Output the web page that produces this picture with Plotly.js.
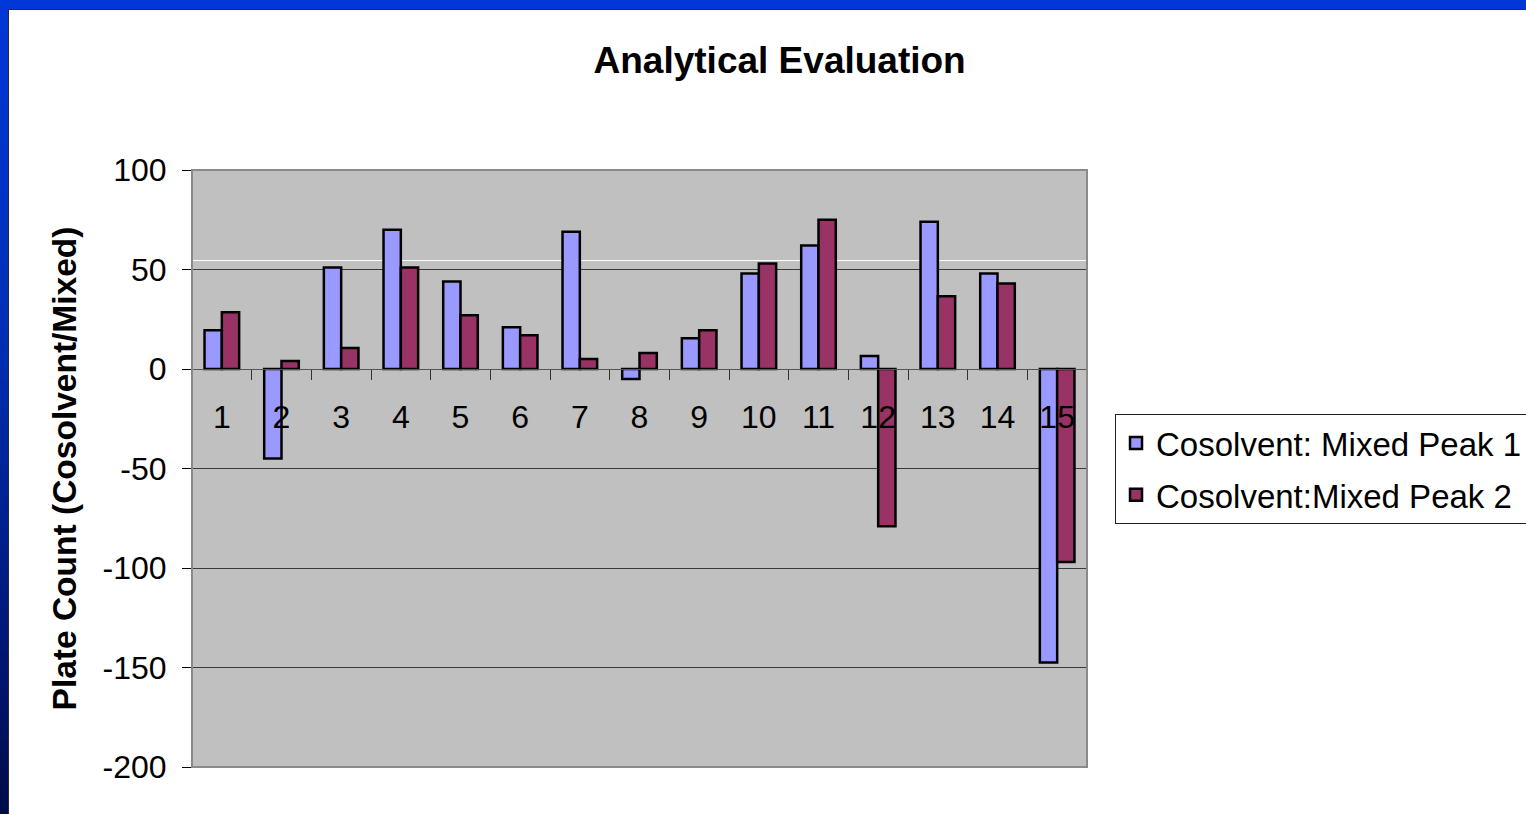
<!DOCTYPE html>
<html>
<head>
<meta charset="utf-8">
<script src="https://cdn.plot.ly/plotly-3.0.1.min.js"></script>
<style>
  html, body { margin:0; padding:0; width:1526px; height:814px; overflow:hidden; }
  body { background: linear-gradient(to bottom, #0038D8 0%, #0030B8 40%, #00146A 85%, #000C48 100%); position:relative; }
  #edge { position:absolute; left:8px; top:9px; width:1518px; height:805px; background:#2a2a2a; }
  #chart { position:absolute; left:9px; top:10px; width:1517px; height:804px; background:#fff; }
</style>
</head>
<body>
<div id="edge"></div>
<div id="chart"></div>
<script>
const categories = ["1","2","3","4","5","6","7","8","9","10","11","12","13","14","15"];
const peak1Name = "Cosolvent: Mixed Peak 1";
const peak2Name = "Cosolvent:Mixed Peak 2";
const peak1 = [19.5, -45, 51, 70, 44, 21, 69, -5, 15.5, 48, 62, 6.5, 74, 48, -147.5];
const peak2 = [28.5, 4, 10.5, 51, 27, 17, 5, 8, 19.5, 53, 75, -79, 36.5, 43, -97];
const yTicks = [-200, -150, -100, -50, 0, 50, 100];

const FONT = "'Liberation Sans', Arial, sans-serif";

const traces = [
  { type:'bar', x:categories, y:peak1, name:peak1Name, legendgroup:'a',
    marker:{ color:'#9999FF', line:{ color:'#000000', width:2.5 } } },
  { type:'bar', x:categories, y:peak2, name:peak2Name, legendgroup:'b',
    marker:{ color:'#993366', line:{ color:'#000000', width:2.5 } } }
];

const layout = {
  width:1517, height:804,
  paper_bgcolor:'#ffffff', plot_bgcolor:'#C0C0C0',
  margin:{ l:183, r:439, t:160, b:47, autoexpand:false },
  barmode:'group', bargap:0.42, bargroupgap:0,
  font:{ family:FONT, color:'#000' },
  title:{ text:'<b>Analytical Evaluation</b>', font:{ family:FONT, size:37, color:'#000' },
          xref:'container', x:0.508, xanchor:'center', yref:'container', y:0.938, yanchor:'middle' },
  xaxis:{ type:'category', anchor:'free', position:2/3, layer:'above traces',
          showline:true, linecolor:'#555', linewidth:1,
          ticks:'outside', tickson:'boundaries', ticklen:10, tickcolor:'#333', tickwidth:1,
          tickfont:{ family:FONT, size:32, color:'#000' }, ticklabelstandoff:20,
          showgrid:false, zeroline:false, fixedrange:true },
  yaxis:{ range:[-200,100], tickvals:yTicks, ticktext:yTicks.map(String),
          showgrid:true, gridcolor:'#3a3a3a', gridwidth:1, zeroline:false,
          showline:true, linecolor:'#333', linewidth:1,
          ticks:'outside', ticklen:9, tickcolor:'#000', tickwidth:1,
          tickfont:{ family:FONT, size:32, color:'#000' }, ticklabelstandoff:9,
          title:{ text:'<b>Plate Count (Cosolvent/Mixed)</b>', font:{ family:FONT, size:33.5, color:'#000' }, standoff:15 },
          fixedrange:true },
  legend:{ x:1.0313, xanchor:'left', y:0.5913, yanchor:'top',
           bgcolor:'#ffffff', bordercolor:'#222', borderwidth:1,
           font:{ family:FONT, size:33, color:'#000' }, tracegroupgap:6 },
  shapes:[
    { type:'line', xref:'paper', yref:'y', x0:0, x1:1, y0:54.5, y1:54.5, layer:'below',
      line:{ color:'#ffffff', width:1 } },
    { type:'rect', xref:'paper', yref:'paper', x0:0, x1:1, y0:0, y1:1, layer:'above',
      line:{ color:'#8a8a8a', width:2 } }
  ],
  showlegend:true
};

Plotly.newPlot('chart', traces, layout, { displayModeBar:false, staticPlot:true });
</script>
</body>
</html>
